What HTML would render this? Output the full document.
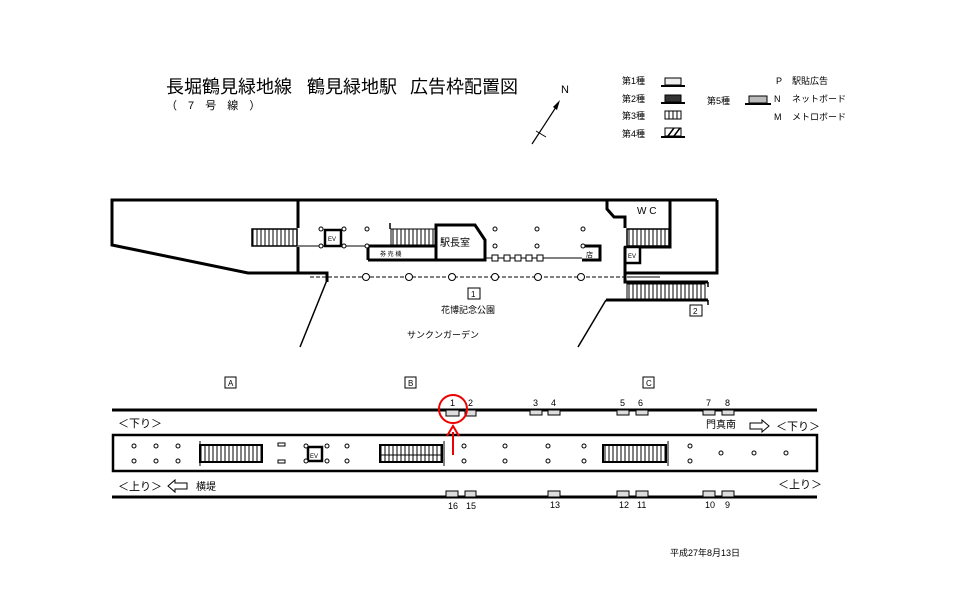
<!DOCTYPE html>
<html><head><meta charset="utf-8"><style>
html,body{margin:0;padding:0;background:#fff}
svg{display:block}
text{font-family:"Liberation Sans","Noto Sans CJK JP",sans-serif;fill:#000}
</style></head><body>
<svg width="960" height="605" viewBox="0 0 960 605" xmlns="http://www.w3.org/2000/svg">
<defs>
<pattern id="st" width="4" height="10" patternUnits="userSpaceOnUse"><rect width="4" height="10" fill="#fff"/><line x1="1" y1="0" x2="1" y2="10" stroke="#000" stroke-width="1"/></pattern>
</defs>
<!-- Title -->
<text x="166" y="93" font-size="18">長堀鶴見緑地線</text>
<text x="307" y="93" font-size="18">鶴見緑地駅</text>
<text x="410" y="93" font-size="18">広告枠配置図</text>
<text x="166" y="109" font-size="11" letter-spacing="4">（ 7 号 線 ）</text>
<!-- north -->
<text x="561" y="93" font-size="11">N</text>
<line x1="532" y1="144" x2="558" y2="104" stroke="#000" stroke-width="1.2"/>
<path d="M560,100 L557,110 L553,107z" fill="#000"/>
<line x1="536" y1="131" x2="546" y2="137" stroke="#000" stroke-width="1"/>
<!-- legend -->
<g font-size="9">
<text x="622" y="84">第1種</text><text x="622" y="102">第2種</text><text x="622" y="119">第3種</text><text x="622" y="137">第4種</text>
<text x="707" y="104">第5種</text>
<text x="776" y="84">P</text><text x="792" y="84">駅貼広告</text>
<text x="774" y="102">N</text><text x="792" y="102">ネットボード</text>
<text x="774" y="120">M</text><text x="792" y="120">メトロボード</text>
</g>
<rect x="665" y="78" width="16" height="7" fill="#eee" stroke="#000"/><line x1="661" y1="86" x2="685" y2="86" stroke="#000" stroke-width="2"/>
<rect x="665" y="95" width="16" height="7" fill="#333" stroke="#000"/><line x1="661" y1="103" x2="685" y2="103" stroke="#000" stroke-width="2"/>
<rect x="665" y="111" width="16" height="8" fill="url(#st)" stroke="#000"/>
<rect x="665" y="128" width="16" height="8" fill="#fff" stroke="#000"/><path d="M668,136 L674,128 M674,136 L680,128" stroke="#000" stroke-width="1.5"/><line x1="661" y1="137" x2="685" y2="137" stroke="#000" stroke-width="2"/>
<rect x="749" y="96" width="18" height="7" fill="#bbb" stroke="#000"/><line x1="745" y1="104" x2="771" y2="104" stroke="#000" stroke-width="2"/>

<!-- top plan -->
<g fill="none" stroke="#000" stroke-width="3">
<polyline points="298,228 298,200 112,200 112,245 248,273 298,273 298,247"/>
<line x1="298" y1="200" x2="717" y2="200"/>
<polyline points="717,200 717,273 626,273"/>
<polyline points="298,273 327,273 327,282"/>
<polyline points="607,200 607,209 614,217 625,217 625,228"/>
<polyline points="670,200 670,247 640,247"/>
<polyline points="625,247 625,282 708,282"/>
<polyline points="606,300 708,300"/>
<polyline points="368,260 368,246 436,246 436,260 368,260"/>
<polyline points="436,246 436,225 475,225 485,240 485,260 436,260"/>
<polyline points="582,246 600,246 600,260 582,260"/>
<rect x="325" y="230" width="16" height="16" stroke-width="2.5"/>
<rect x="625" y="247" width="15" height="16" stroke-width="2.5"/>
</g>
<g stroke="#000" stroke-width="1.5" fill="none">
<line x1="327" y1="280" x2="300" y2="347"/>
<line x1="606" y1="300" x2="578" y2="347"/>
<line x1="390" y1="223" x2="390" y2="229"/>
<line x1="708" y1="282" x2="708" y2="287"/>
<line x1="708" y1="300" x2="708" y2="305"/>
</g>
<rect x="252" y="229" width="45" height="17" fill="url(#st)" stroke="#000" stroke-width="1.5"/>
<rect x="391" y="229" width="44" height="16" fill="url(#st)" stroke="#000" stroke-width="1"/>
<rect x="627" y="229" width="42" height="17" fill="url(#st)" stroke="#000" stroke-width="1.5"/>
<rect x="627" y="284" width="78" height="15" fill="url(#st)" stroke="#000" stroke-width="1"/>
<g stroke="#000" stroke-width="1" fill="none">
<line x1="298" y1="246" x2="325" y2="246"/><line x1="341" y1="246" x2="368" y2="246"/>
<line x1="485" y1="258" x2="582" y2="258"/>
<line x1="310" y1="277" x2="645" y2="277" stroke-dasharray="4,2"/>
<line x1="627" y1="277" x2="660" y2="277"/>
</g>
<g fill="#fff" stroke="#000" stroke-width="1">
<circle cx="321" cy="229" r="2"/><circle cx="344" cy="229" r="2"/><circle cx="367" cy="229" r="2"/>
<circle cx="321" cy="246" r="2"/><circle cx="344" cy="246" r="2"/><circle cx="367" cy="246" r="2"/>
<circle cx="495" cy="229" r="2"/><circle cx="537" cy="229" r="2"/><circle cx="583" cy="229" r="2"/>
<circle cx="495" cy="246" r="2"/><circle cx="537" cy="246" r="2"/><circle cx="583" cy="246" r="2"/>
<rect x="492" y="255" width="6" height="6"/><rect x="504" y="255" width="6" height="6"/><rect x="515" y="255" width="6" height="6"/><rect x="526" y="255" width="6" height="6"/><rect x="537" y="255" width="6" height="6"/>
<circle cx="366" cy="277" r="3.5"/><circle cx="409" cy="277" r="3.5"/><circle cx="452" cy="277" r="3.5"/><circle cx="495" cy="277" r="3.5"/><circle cx="538" cy="277" r="3.5"/><circle cx="581" cy="277" r="3.5"/>
<rect x="468" y="288" width="12" height="11"/>
<rect x="690" y="305" width="12" height="11"/>
</g>
<g font-size="8">
<text x="328" y="241" font-size="6">EV</text><text x="628" y="258" font-size="6">EV</text>
<text x="380" y="256" font-size="6">券 売 機</text>
<text x="440" y="246" font-size="10">駅長室</text>
<text x="586" y="257" font-size="7">店</text>
<text x="637" y="214" font-size="10">W C</text>
<text x="471" y="297">1</text><text x="693" y="314">2</text>
<text x="441" y="313" font-size="9">花博記念公園</text>
<text x="407" y="338" font-size="9">サンクンガーデン</text>
</g>

<!-- platform -->
<g fill="#fff" stroke="#000" stroke-width="1">
<rect x="225" y="377" width="11" height="11"/><rect x="405" y="377" width="11" height="11"/><rect x="643" y="377" width="11" height="11"/>
</g>
<g font-size="8"><text x="228" y="386">A</text><text x="408" y="386">B</text><text x="646" y="386">C</text></g>
<line x1="112" y1="410" x2="817" y2="410" stroke="#000" stroke-width="3"/>
<line x1="112" y1="497" x2="817" y2="497" stroke="#000" stroke-width="3"/>
<rect x="113" y="435" width="704" height="36" fill="none" stroke="#000" stroke-width="2.5"/>
<g fill="#ddd" stroke="#000" stroke-width="1">
<rect x="446" y="410" width="13" height="6"/><rect x="465" y="410" width="11" height="6"/>
<rect x="530" y="410" width="12" height="5"/><rect x="548" y="410" width="12" height="5"/>
<rect x="617" y="410" width="12" height="5"/><rect x="636" y="410" width="12" height="5"/>
<rect x="703" y="410" width="12" height="5"/><rect x="722" y="410" width="12" height="5"/>
<rect x="446" y="491" width="12" height="6"/><rect x="465" y="491" width="11" height="6"/>
<rect x="548" y="491" width="12" height="6"/>
<rect x="617" y="491" width="12" height="6"/><rect x="636" y="491" width="12" height="6"/>
<rect x="703" y="491" width="12" height="6"/><rect x="722" y="491" width="12" height="6"/>
</g>
<g font-size="9">
<text x="450" y="406">1</text><text x="468" y="406">2</text><text x="533" y="406">3</text><text x="551" y="406">4</text>
<text x="620" y="406">5</text><text x="638" y="406">6</text><text x="706" y="406">7</text><text x="725" y="406">8</text>
<text x="448" y="509">16</text><text x="466" y="509">15</text><text x="550" y="508">13</text><text x="619" y="508">12</text><text x="637" y="508">11</text><text x="705" y="508">10</text><text x="725" y="508">9</text>
</g>
<g font-size="11">
<text x="118" y="427">＜下り＞</text>
<text x="776" y="430">＜下り＞</text>
<text x="706" y="428" font-size="10">門真南</text>
<text x="118" y="490">＜上り＞</text>
<text x="778" y="488">＜上り＞</text>
<text x="196" y="490" font-size="10">横堤</text>
</g>
<path d="M750,423 L762,423 L762,420 L769,426 L762,432 L762,429 L750,429z" fill="#fff" stroke="#000"/>
<path d="M187,483 L175,483 L175,480 L168,486 L175,492 L175,489 L187,489z" fill="#fff" stroke="#000"/>
<!-- escalators -->
<rect x="200" y="445" width="62" height="17" fill="url(#st)" stroke="#000" stroke-width="2"/>
<rect x="380" y="445" width="62" height="17" fill="url(#st)" stroke="#000" stroke-width="2"/>
<line x1="380" y1="455" x2="442" y2="455" stroke="#000" stroke-width="1"/>
<rect x="603" y="445" width="63" height="17" fill="url(#st)" stroke="#000" stroke-width="2"/>
<g stroke="#000" stroke-width="1"><line x1="200" y1="441" x2="200" y2="466"/><line x1="444" y1="441" x2="444" y2="466"/><line x1="668" y1="441" x2="668" y2="466"/></g>
<rect x="308" y="447" width="14" height="14" fill="#fff" stroke="#000" stroke-width="2.5"/>
<text x="310" y="458" font-size="6">EV</text>
<g fill="#fff" stroke="#000" stroke-width="1">
<rect x="278" y="443" width="7" height="3"/><rect x="278" y="460" width="7" height="3"/>
<circle cx="134" cy="446" r="2"/><circle cx="156" cy="446" r="2"/><circle cx="178" cy="446" r="2"/>
<circle cx="134" cy="461" r="2"/><circle cx="156" cy="461" r="2"/><circle cx="178" cy="461" r="2"/>
<circle cx="306" cy="446" r="2"/><circle cx="327" cy="446" r="2"/><circle cx="347" cy="446" r="2"/>
<circle cx="306" cy="461" r="2"/><circle cx="327" cy="461" r="2"/><circle cx="347" cy="461" r="2"/>
<circle cx="464" cy="446" r="2"/><circle cx="505" cy="446" r="2"/><circle cx="548" cy="446" r="2"/><circle cx="584" cy="446" r="2"/>
<circle cx="464" cy="461" r="2"/><circle cx="505" cy="461" r="2"/><circle cx="548" cy="461" r="2"/><circle cx="584" cy="461" r="2"/>
<circle cx="690" cy="446" r="2"/><circle cx="690" cy="461" r="2"/>
<circle cx="721" cy="453" r="2"/><circle cx="754" cy="453" r="2"/><circle cx="786" cy="453" r="2"/>
</g>
<!-- red -->
<circle cx="453" cy="409" r="14" fill="none" stroke="#e00" stroke-width="2"/>
<line x1="453" y1="455" x2="453" y2="432" stroke="#e00" stroke-width="2"/>
<path d="M447,436 L453,426 L459,436" fill="none" stroke="#e00" stroke-width="2"/>
<text x="670" y="556" font-size="9">平成27年8月13日</text>
</svg>
</body></html>
